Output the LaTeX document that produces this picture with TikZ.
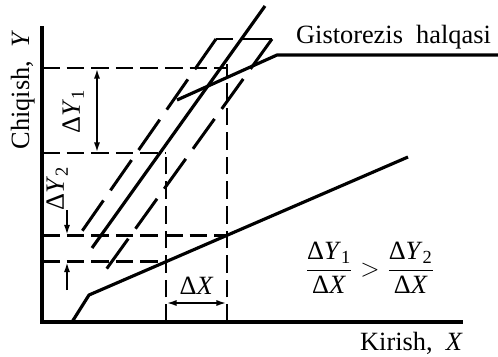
\documentclass[tikz,border=0pt]{standalone}
\usepackage{fontspec}
\setmainfont{Liberation Serif}
\usepackage{amsmath}
\usetikzlibrary{arrows.meta}

\begin{document}
\begin{tikzpicture}[
    font=\fontsize{15}{18}\selectfont,
    axisline/.style={line width=2pt},
    charline/.style={line width=1.8pt,line join=round},
    guideline/.style={line width=1.7pt,dash pattern=on 10pt off 4pt},
    loopline/.style={line width=1.7pt,dash pattern=on 21pt off 7pt},
    looptop/.style={line width=1.7pt,dash pattern=on 9.5pt off 5.5pt on 30pt off 1pt},
    dimline/.style={line width=1.3pt,{Latex[length=6pt,width=3.4pt]}-{Latex[length=6pt,width=3.4pt]}},
    dimhalf/.style={line width=1.3pt,-{Latex[length=6pt,width=3.4pt]}}]

  \useasboundingbox (-0.84,-0.68) rectangle (9.12,6.44);

  % axes
  \coordinate (o) at (0,0);
  \coordinate (ytop) at (0,5.92);
  \coordinate (xend) at (8.42,0);
  \draw[axisline] (ytop) -- (o) -- (xend);

  % characteristic points
  \coordinate (a0) at (0.6,0);
  \coordinate (a1) at (0.94,0.54);
  \coordinate (a2) at (7.32,3.30);
  \coordinate (p1) at (2.48,1.21);
  \coordinate (p2) at (3.70,1.73);
  \coordinate (q1) at (2.48,3.38);
  \coordinate (q2) at (3.70,5.08);
  \coordinate (qtop) at (3.70,5.16);
  \coordinate (yp1) at (0,1.21);
  \coordinate (yp2) at (0,1.73);
  \coordinate (yq1) at (0,3.38);
  \coordinate (yq2) at (0,5.08);
  \coordinate (xq1) at (2.48,0);
  \coordinate (xq2) at (3.70,0);

  % hysteresis loop
  \coordinate (m0) at (1.0,1.48);
  \coordinate (m1) at (4.46,6.32);
  \coordinate (l0) at (0.74,1.73);
  \coordinate (l1) at (3.48,5.66);
  \coordinate (r1) at (4.60,5.66);
  \coordinate (r0) at (1.16,0.88);
  \coordinate (g0) at (2.70,4.44);
  \coordinate (g1) at (4.70,5.34);
  \coordinate (g2) at (9.12,5.34);

  \draw[guideline] (yq2) -- (q2);
  \draw[guideline] (yq1) -- (q1);
  \draw[guideline] (yp2) -- (p2);
  \draw[guideline] (yp1) -- (p1);
  \draw[guideline] (xq1) -- (q1);
  \draw[guideline] (xq2) -- (qtop);

  \draw[charline] (a0) -- (a1) -- (a2);
  \draw[charline] (m0) -- (m1);
  \draw[loopline] (l1) -- (l0);
  \draw[looptop] (l1) -- (r1);
  \draw[loopline] (r1) -- (r0);
  \draw[charline] (g0) -- (g1) -- (g2);

  % dimensions
  \coordinate (d1a) at (1.10,5.08);
  \coordinate (d1b) at (1.10,3.38);
  \coordinate (d2a) at (0.50,2.24);
  \coordinate (d2b) at (0.50,1.73);
  \coordinate (d2c) at (0.50,0.64);
  \coordinate (d2d) at (0.50,1.21);
  \coordinate (dxa) at (2.48,0.38);
  \coordinate (dxb) at (3.70,0.38);
  \draw[dimline] (d1a) -- (d1b);
  \draw[dimhalf] (d2a) -- (d2b);
  \draw[dimhalf] (d2c) -- (d2d);
  \draw[dimline] (dxa) -- (dxb);

  % labels
  \node[rotate=90,anchor=base] (ylab) at (-0.26,4.64) {Chiqish,\enspace\textit{Y}};
  \node[anchor=base] (xlab) at (7.39,-0.56) {Kirish,\enspace\textit{X}};
  \node[anchor=base] (loop) at (7.03,5.58) {Gistorezis\enspace halqasi};
  \node[rotate=90,anchor=base] (dy1) at (0.76,4.22) {Δ\textit{Y}\textsubscript{1}};
  \node[rotate=90,anchor=base] (dy2) at (0.44,2.68) {Δ\textit{Y}\textsubscript{2}};
  \node[anchor=base] (dx) at (3.09,0.56) {Δ\textit{X}};
  \node (ratio) at (6.56,1.08)
    {$\dfrac{\text{Δ\textit{Y}\textsubscript{1}}}{\text{Δ\textit{X}}} >
      \dfrac{\text{Δ\textit{Y}\textsubscript{2}}}{\text{Δ\textit{X}}}$};
\end{tikzpicture}
\end{document}
